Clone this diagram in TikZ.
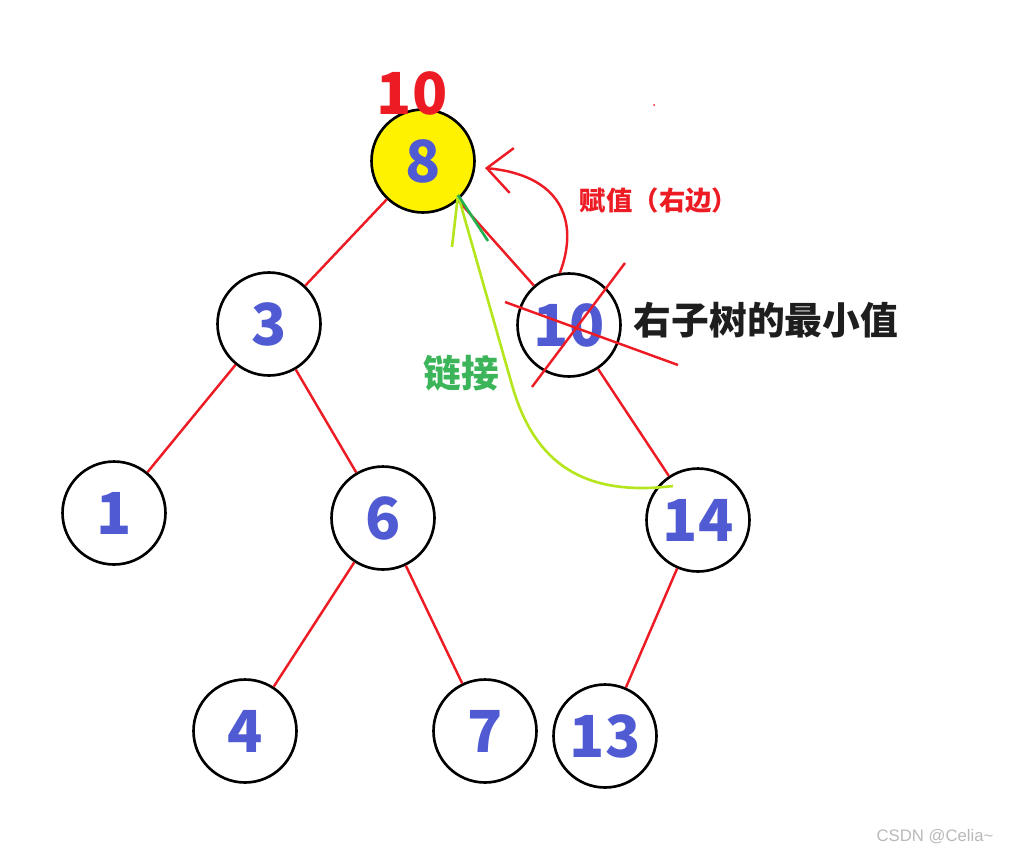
\documentclass[tikz,border=0pt]{standalone}
\usepackage{fontspec}
\setmainfont{Noto Sans CJK SC}
\newfontfamily\markfont{Liberation Sans}
\usetikzlibrary{arrows.meta}
\definecolor{tree-red}{RGB}{237,28,36}
\definecolor{key-blue}{RGB}{80,90,210}
\definecolor{root-yellow}{RGB}{255,242,0}
\definecolor{link-green}{RGB}{60,180,90}
\definecolor{link-lime}{RGB}{181,230,29}
\definecolor{barb-green}{RGB}{34,177,76}
\definecolor{note-dark}{RGB}{30,30,30}
\definecolor{mark-gray}{RGB}{185,185,185}

\begin{document}
\begin{tikzpicture}[
  x=0.02cm, y=-0.02cm,
  bstnode/.style={circle, draw=black, line width=1.5pt, minimum size=2.06cm, inner sep=0pt,
    font=\bfseries\fontsize{33}{33}\selectfont, text=key-blue},
  branch/.style={draw=tree-red, line width=1.4pt},
  remark/.style={font=\bfseries\fontsize{21.5}{22}\selectfont},
]
  \useasboundingbox (0,0) rectangle (1010,856);

  \node[bstnode, fill=root-yellow] (n8) at (423,161) {8};
  \node[bstnode] (n3) at (269,324) {3};
  \node[bstnode] (n10) at (569,325) {10};
  \node[bstnode] (n1) at (114,513) {1};
  \node[bstnode] (n6) at (383,518) {6};
  \node[bstnode] (n14) at (698,520) {14};
  \node[bstnode] (n4) at (245,731) {4};
  \node[bstnode] (n7) at (485,731) {7};
  \node[bstnode] (n13) at (605,736) {13};

  \draw[branch] (n8) -- (n3);
  \draw[branch] (n8) -- (n10);
  \draw[branch] (n3) -- (n1);
  \draw[branch] (n3) -- (n6);
  \draw[branch] (n10) -- (n14);
  \draw[branch] (n6) -- (n4);
  \draw[branch] (n6) -- (n7);
  \draw[branch] (n14) -- (n13);

  % crossed out successor
  \draw[tree-red, line width=1.4pt] (505,302) -- (678,365) (625,263) -- (532,387);

  \node[text=tree-red, font=\bfseries\fontsize{33}{33}\selectfont] (newkey) at (412,93) {10};
  \fill[tree-red] (654,105) circle (1);

  \coordinate (assignTip) at (485,168);
  \draw[tree-red, line width=1.4pt, -{Straight Barb[length=0.5cm, width=0.9cm]}]
    (n10.100) .. controls (580,220) and (560,175) .. (assignTip);
  \node[text=tree-red, font=\bfseries\fontsize{15}{15}\selectfont] (assignnote) at (659,201) {赋值（右边）};

  \coordinate (linkTip) at (458,195);
  \draw[link-lime, line width=1.5pt]
    ([shift={(-25,-34)}]n14.center) .. controls (575,498) and (532,455) .. (512,385) -- (linkTip);
  \draw[link-lime, line width=1.5pt] (linkTip) -- +(-6,52);
  \draw[barb-green, line width=1.5pt] (linkTip) -- +(30,46);
  \node[remark, text=link-green] (linknote) at (461,373) {链接};

  \node[remark, text=note-dark] (minnote) at (766,320) {右子树的最小值};
  \node[text=mark-gray, font=\markfont\fontsize{9.5}{10}\selectfont] (mark) at (935,837) {CSDN @Celia\textasciitilde};
\end{tikzpicture}
\end{document}
